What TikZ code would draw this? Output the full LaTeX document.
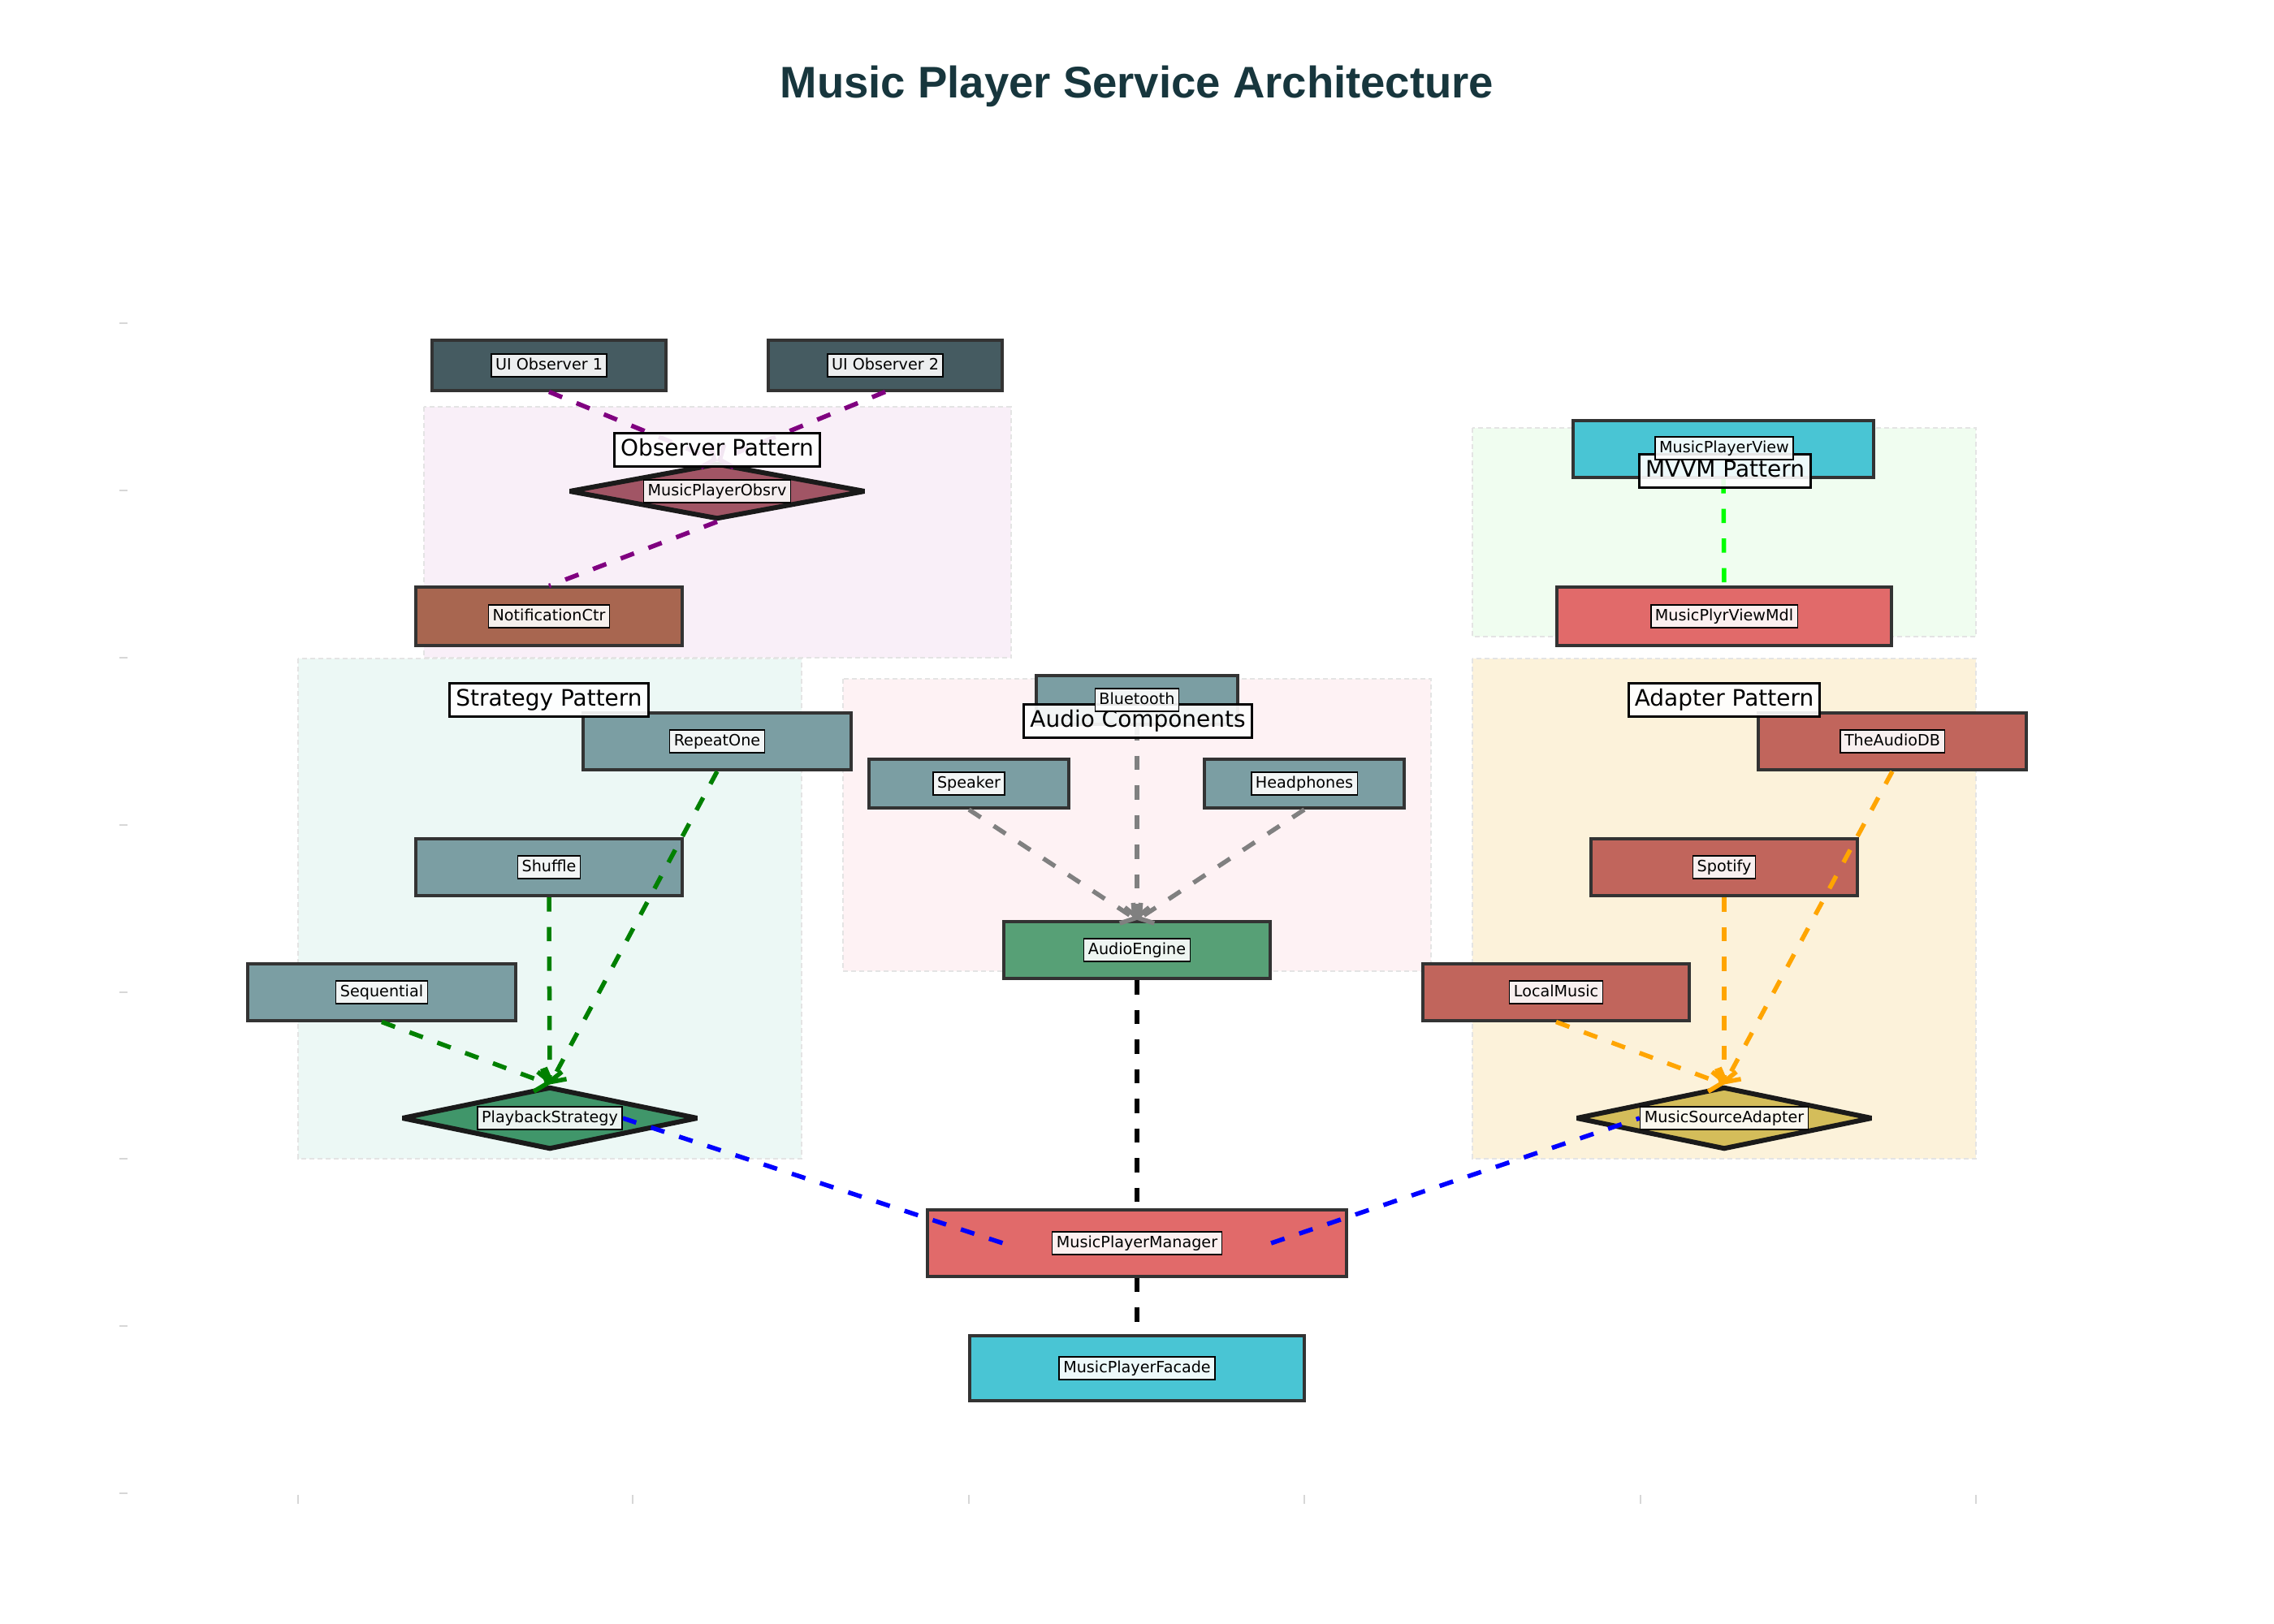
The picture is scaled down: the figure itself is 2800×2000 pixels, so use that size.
\documentclass[tikz,border=0pt]{standalone}
\usepackage{fontspec}
\setmainfont{DejaVu Sans}
\newfontfamily\titlefont{Liberation Sans}
\usetikzlibrary{shapes.geometric,arrows.meta,calc}
\definecolor{titlec}{RGB}{23,54,61}
\definecolor{uoc}{RGB}{69,91,97}
\definecolor{obsdc}{RGB}{161,85,101}
\definecolor{ntfc}{RGB}{168,102,80}
\definecolor{cyanc}{RGB}{73,197,212}
\definecolor{redc}{RGB}{225,106,106}
\definecolor{grayc}{RGB}{123,158,163}
\definecolor{psc}{RGB}{64,150,106}
\definecolor{engc}{RGB}{87,160,118}
\definecolor{srcc}{RGB}{193,101,92}
\definecolor{msac}{RGB}{212,189,90}
\definecolor{boxedge}{RGB}{51,51,51}
\definecolor{diaedge}{RGB}{26,26,26}
\definecolor{obsbg}{RGB}{249,239,248}
\definecolor{mvvmbg}{RGB}{240,253,240}
\definecolor{strbg}{RGB}{236,248,245}
\definecolor{audbg}{RGB}{254,242,244}
\definecolor{adpbg}{RGB}{252,242,218}
\definecolor{regline}{RGB}{228,228,228}
\definecolor{tickc}{RGB}{215,215,215}
\definecolor{purp}{RGB}{128,0,128}
\definecolor{limec}{RGB}{0,255,0}
\definecolor{dgreen}{RGB}{0,128,0}
\definecolor{grayl}{RGB}{128,128,128}
\definecolor{orangec}{RGB}{255,165,0}
\definecolor{bluec}{RGB}{0,0,255}
\tikzset{
  region/.style={line width=0.015cm, draw=regline, dash pattern=on 0.06cm off 0.04cm},
  comp/.style={rectangle, draw=boxedge, line width=0.04cm, inner sep=0pt},
  dia/.style={diamond, draw=diaedge, line width=0.06cm, inner sep=0pt, miter limit=4},
  lbl/.style={rectangle, draw=black, line width=0.015cm, fill=white, fill opacity=0.9, text opacity=1, draw opacity=1,
    font=\fontsize{5.45}{6.2}\selectfont, inner xsep=0.052cm, inner ysep=0.05cm, text height=0.142cm, text depth=0.038cm},
  ghost/.style={lbl, draw=none, fill=none, text opacity=0},
  plbl/.style={rectangle, draw=black, line width=0.03cm, fill=white, fill opacity=0.9, text opacity=1, draw opacity=1,
    font=\fontsize{7.95}{9.3}\selectfont, inner xsep=0.075cm, inner ysep=0.075cm, text height=0.207cm, text depth=0.056cm},
  conn/.style={line width=0.055cm, dash pattern=on 0.175cm off 0.19cm},
  arr/.style={-{Straight Barb[length=0.12cm,width=0.30cm]}},
  tick/.style={draw=tickc, line width=0.02cm}
}
\begin{document}
\begin{tikzpicture}[x=0.01cm,y=-0.01cm]
\useasboundingbox (0,0) rectangle (2800,2000);
% ticks
\foreach \yy in {398,604,810,1016,1222,1427,1633,1839} \draw[tick] (147,\yy) -- (157,\yy);
\foreach \xx in {367,779,1193,1606,2020,2433} \draw[tick] (\xx,1841) -- (\xx,1852);
% regions
\fill[obsbg] (522,501) rectangle (1245,810);
\draw[region] (522,501) rectangle (1245,810);
\fill[mvvmbg] (1813,527) rectangle (2433,784);
\draw[region] (1813,527) rectangle (2433,784);
\fill[strbg] (367,811) rectangle (987,1427);
\draw[region] (367,811) rectangle (987,1427);
\fill[audbg] (1038,836) rectangle (1762,1196);
\draw[region] (1038,836) rectangle (1762,1196);
\fill[adpbg] (1813,811) rectangle (2433,1427);
\draw[region] (1813,811) rectangle (2433,1427);
% title
\node[anchor=base, text=titlec, font=\titlefont\bfseries\fontsize{15.5}{18}\selectfont] (title) at (1400,121) {Music Player Service Architecture};
% observer
\node[comp, fill=uoc, minimum width=2.87cm, minimum height=0.61cm] (uo1) at (676,450) {};
\node[comp, fill=uoc, minimum width=2.87cm, minimum height=0.61cm] (uo2) at (1090,450) {};
\node[dia, fill=obsdc, minimum width=3.65cm, minimum height=0.69cm] (obs) at (883,605) {};
\node[comp, fill=ntfc, minimum width=3.28cm, minimum height=0.71cm] (ntf) at (676,759) {};
% mvvm
\node[comp, fill=cyanc, minimum width=3.70cm, minimum height=0.70cm] (mpv) at (2122,553) {};
\node[comp, fill=redc, minimum width=4.11cm, minimum height=0.71cm] (vm) at (2123,759) {};
% strategy
\node[comp, fill=grayc, minimum width=3.29cm, minimum height=0.70cm] (rep) at (883,913) {};
\node[comp, fill=grayc, minimum width=3.28cm, minimum height=0.70cm] (shf) at (676,1068) {};
\node[comp, fill=grayc, minimum width=3.29cm, minimum height=0.69cm] (seq) at (470,1222) {};
\node[dia, fill=psc, minimum width=3.65cm, minimum height=0.77cm] (ps) at (677,1377) {};
% audio
\node[comp, fill=grayc, minimum width=2.47cm, minimum height=0.60cm] (bt) at (1400,862) {};
\node[comp, fill=grayc, minimum width=2.45cm, minimum height=0.60cm] (spk) at (1193,965) {};
\node[comp, fill=grayc, minimum width=2.46cm, minimum height=0.60cm] (hph) at (1606,965) {};
\node[comp, fill=engc, minimum width=3.28cm, minimum height=0.70cm] (eng) at (1400,1170) {};
% adapter
\node[comp, fill=srcc, minimum width=3.30cm, minimum height=0.70cm] (adb) at (2330,913) {};
\node[comp, fill=srcc, minimum width=3.28cm, minimum height=0.70cm] (spo) at (2123,1068) {};
\node[comp, fill=srcc, minimum width=3.28cm, minimum height=0.69cm] (loc) at (1916,1222) {};
\node[dia, fill=msac, minimum width=3.65cm, minimum height=0.77cm] (msa) at (2123,1377) {};
% core
\node[comp, fill=redc, minimum width=5.15cm, minimum height=0.81cm] (mgr) at (1400,1531) {};
\node[comp, fill=cyanc, minimum width=4.11cm, minimum height=0.80cm] (fac) at (1400,1685) {};
% invisible label outlines used as connector ends
\node[ghost] (psG) at (ps) {PlaybackStrategy};
\node[ghost] (msaG) at (msa) {MusicSourceAdapter};
\node[ghost] (mgrG) at (mgr) {MusicPlayerManager};
% connectors
\draw[conn, purp, arr] (uo1.south) -- (obs.north);
\draw[conn, purp, arr] (uo2.south) -- (obs.north);
\draw[conn, purp] (obs.south) -- (ntf.north);
\draw[conn, limec] (mpv.south) -- (vm.north);
\draw[conn, dgreen, arr] (seq.south) -- (ps.north);
\draw[conn, dgreen, arr] (shf.south) -- (ps.north);
\draw[conn, dgreen, arr] (rep.south) -- (ps.north);
\draw[conn, grayl, arr] (bt.south) -- (eng.north);
\draw[conn, grayl, arr] (spk.south) -- (eng.north);
\draw[conn, grayl, arr] (hph.south) -- (eng.north);
\draw[conn, orangec, arr] (loc.south) -- (msa.north);
\draw[conn, orangec, arr] (spo.south) -- (msa.north);
\draw[conn, orangec, arr] (adb.south) -- (msa.north);
\draw[conn, black] (eng.south) -- (mgr.north);
\draw[conn, black] (mgr.south) -- (fac.north);
\coordinate (mgrL) at ([xshift=-0.60cm]mgrG.west);
\coordinate (mgrR) at ([xshift=0.60cm]mgrG.east);
\draw[conn, bluec] (psG.east) -- (mgrL);
\draw[conn, bluec] (mgrR) -- (msaG.west);
% pattern labels
\node[plbl] (obsP) at (883,554) {Observer Pattern};
\node[plbl] (mvvmP) at (2124,580) {MVVM Pattern};
\node[plbl] (strP) at (676,862) {Strategy Pattern};
\node[plbl] (audP) at (1401,888) {Audio Components};
\node[plbl] (adpP) at (2123,862) {Adapter Pattern};
% component labels
\node[lbl] (psT) at (ps) {PlaybackStrategy};
\node[lbl] (msaT) at (msa) {MusicSourceAdapter};
\node[lbl] (mgrT) at (mgr) {MusicPlayerManager};
\node[lbl] (uo1T) at (uo1) {UI Observer 1};
\node[lbl] (uo2T) at (uo2) {UI Observer 2};
\node[lbl] (obsT) at (obs) {MusicPlayerObsrv};
\node[lbl] (ntfT) at (ntf) {NotificationCtr};
\node[lbl] (mpvT) at (2123,552) {MusicPlayerView};
\node[lbl] (vmT) at (vm) {MusicPlyrViewMdl};
\node[lbl] (repT) at (rep) {RepeatOne};
\node[lbl] (shfT) at (shf) {Shuffle};
\node[lbl] (seqT) at (seq) {Sequential};
\node[lbl] (btT) at (bt) {Bluetooth};
\node[lbl] (spkT) at (spk) {Speaker};
\node[lbl] (hphT) at (hph) {Headphones};
\node[lbl] (engT) at (eng) {AudioEngine};
\node[lbl] (adbT) at (adb) {TheAudioDB};
\node[lbl] (spoT) at (spo) {Spotify};
\node[lbl] (locT) at (loc) {LocalMusic};
\node[lbl] (facT) at (fac) {MusicPlayerFacade};
\end{tikzpicture}
\end{document}
